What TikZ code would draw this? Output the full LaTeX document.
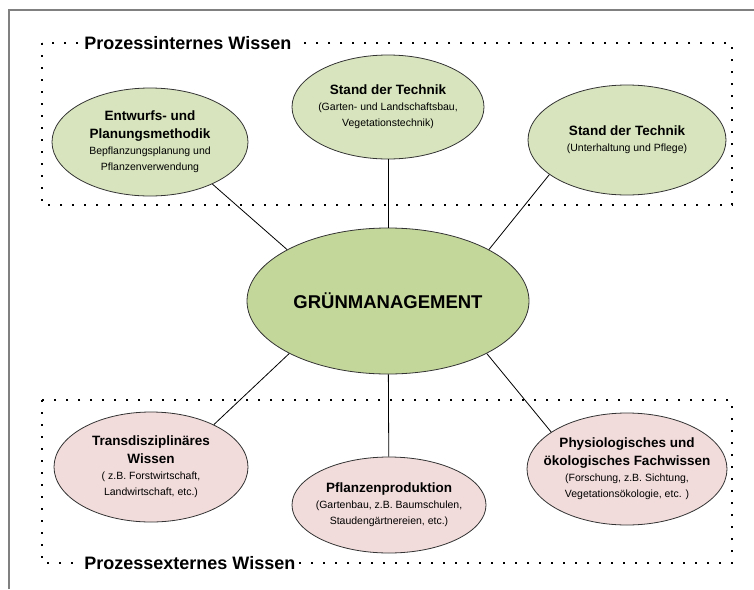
\documentclass[tikz,border=0pt]{standalone}
\usepackage{fontspec}
\setmainfont{Liberation Sans}
\usepackage{tikz}
\usetikzlibrary{shapes.geometric}
\usepackage{xcolor}

\definecolor{innengruen}{RGB}{215,228,189}
\definecolor{kerngruen}{RGB}{196,215,155}
\definecolor{aussenrosa}{RGB}{242,220,219}
\definecolor{rahmengrau}{RGB}{128,128,128}

\newcommand{\kopf}{\bfseries\fontsize{13.5}{18}\selectfont}
\newcommand{\klein}{\fontsize{10.5}{16}\selectfont}

\begin{document}
\begin{tikzpicture}[x=1pt,y=-1pt,line width=0.8pt]
  \tikzstyle{wissen}=[ellipse,draw=black!80,align=center,font=\klein,inner xsep=-25pt,inner ysep=-10pt]
  \tikzstyle{bereich}=[line width=1.6pt,dash pattern=on 1.6pt off 10.4pt]
  \tikzstyle{titel}=[fill=white,inner xsep=3pt,inner ysep=1pt,font=\bfseries\fontsize{18}{20}\selectfont]

  \useasboundingbox (0,0) rectangle (754,589);
  \draw[rahmengrau,line width=1.6pt] (9,589) -- (9,10) -- (754,10);

  % Bereiche
  \draw[bereich] (42,43) rectangle (732,205);
  \draw[bereich] (42,400) rectangle (732,563);
  \node[titel,anchor=west] (intern) at (81,43) {Prozessinternes Wissen};
  \node[titel,anchor=west] (extern) at (81,563) {Prozessexternes Wissen};

  % Ellipsen
  \node[wissen,fill=kerngruen,minimum width=282pt,minimum height=146pt] (gm) at (388,301)
    {\bfseries\fontsize{18.5}{20}\selectfont GRÜNMANAGEMENT};

  \node[wissen,fill=innengruen,minimum width=196pt,minimum height=108pt] (entwurf) at (150,142)
    {{\kopf Entwurfs- und}\\[2pt]{\kopf Planungsmethodik}\\Bepflanzungsplanung und\\Pflanzenverwendung};
  \node[wissen,fill=innengruen,minimum width=192pt,minimum height=104pt] (bau) at (388,107)
    {{\kopf Stand der Technik}\\(Garten- und Landschaftsbau,\\Vegetationstechnik)};
  \node[wissen,fill=innengruen,minimum width=198pt,minimum height=110pt] (pflege) at (627,140)
    {{\kopf Stand der Technik}\\(Unterhaltung und Pflege)};

  \node[wissen,fill=aussenrosa,minimum width=194pt,minimum height=110pt] (trans) at (151,467)
    {{\kopf Transdisziplinäres}\\[2pt]{\kopf Wissen}\\( z.B. Forstwirtschaft,\\Landwirtschaft, etc.)};
  \node[wissen,fill=aussenrosa,minimum width=194pt,minimum height=96pt] (prod) at (389,505)
    {{\kopf Pflanzenproduktion}\\(Gartenbau, z.B. Baumschulen,\\Staudengärtnereien, etc.)};
  \node[wissen,fill=aussenrosa,minimum width=200pt,minimum height=112pt] (fach) at (627,469)
    {{\kopf Physiologisches und}\\[2pt]{\kopf ökologisches Fachwissen}\\(Forschung, z.B. Sichtung,\\Vegetationsökologie, etc. )};

  \path[draw]
  (entwurf.-34) edge (gm.153)
  (bau)         edge (gm)
  (pflege.204)  edge (gm.27)
  (trans.34)    edge (gm.208)
  (prod)        edge (gm)
  (fach.154)    edge (gm.-28)
  ;
\end{tikzpicture}
\end{document}
